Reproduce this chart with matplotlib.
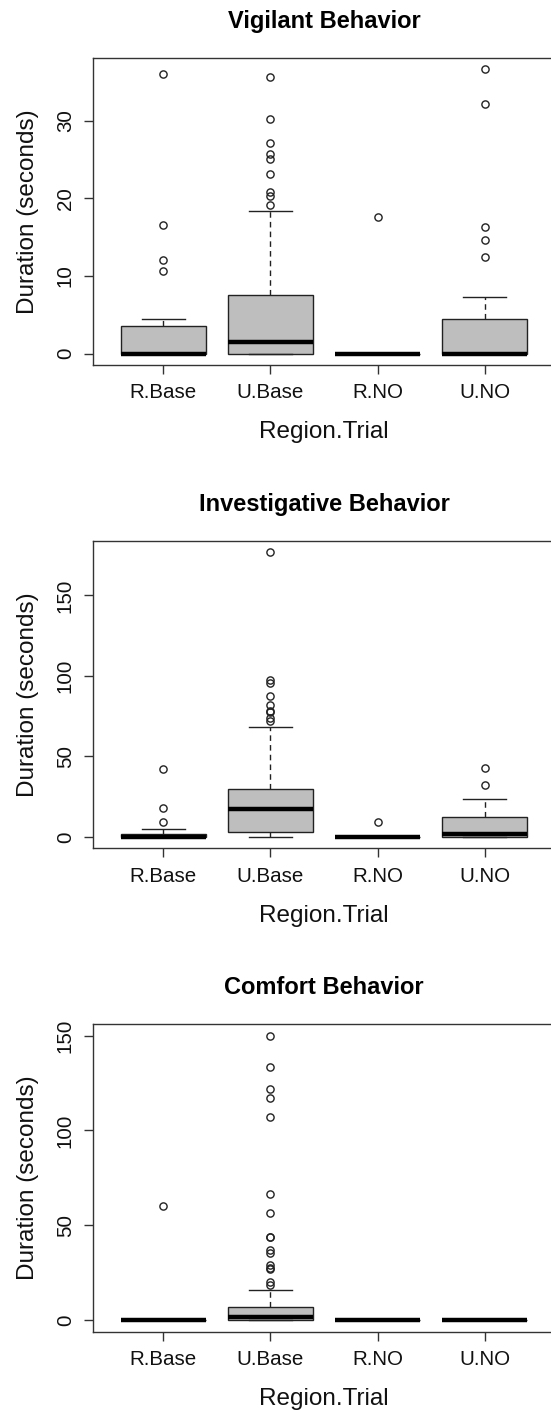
import matplotlib
matplotlib.use('Agg')
import matplotlib.pyplot as plt

plt.rcParams['font.family'] = ['Liberation Sans', 'DejaVu Sans']

groups = ['R.Base', 'U.Base', 'R.NO', 'U.NO']

# Vigilant behavior (box statistics)
vig_lo = [0, 0, 0, 0]
vig_q1 = [0, 0, 0, 0]
vig_med = [0, 1.5, 0, 0]
vig_q3 = [3.6, 7.6, 0, 4.5]
vig_hi = [4.45, 18.4, 0, 7.35]
vig_fliers = [
    [36.0, 16.6, 12.1, 10.6],
    [35.6, 30.2, 27.2, 25.7, 25.1, 23.2, 20.8, 20.3, 19.2],
    [17.6],
    [36.7, 32.2, 16.3, 14.6, 12.5],
]
vig_ticks = [0, 10, 20, 30]

# Investigative behavior
inv_lo = [0, 0, 0, 0]
inv_q1 = [0, 3.2, 0, 0]
inv_med = [0, 17.5, 0, 2.0]
inv_q3 = [2.1, 29.5, 0, 12.2]
inv_hi = [5.0, 68.4, 0, 23.4]
inv_fliers = [
    [41.9, 18.0, 9.0],
    [176.9, 97.2, 95.9, 87.4, 82.2, 78.5, 77.3, 73.8, 72.3],
    [9.1],
    [43.1, 32.2],
]
inv_ticks = [0, 50, 100, 150]

# Comfort behavior
com_lo = [0, 0, 0, 0]
com_q1 = [0, 0, 0, 0]
com_med = [0, 1.8, 0, 0]
com_q3 = [0, 6.9, 0, 0]
com_hi = [0, 16.0, 0, 0]
com_fliers = [
    [60.2],
    [150.0, 133.6, 121.7, 117.3, 106.9, 66.8, 56.5, 44.0, 43.8,
     37.2, 35.4, 28.9, 27.7, 26.9, 20.4, 18.7],
    [],
    [],
]
com_ticks = [0, 50, 100, 150]

panels = [
    ('Vigilant Behavior', vig_lo, vig_q1, vig_med, vig_q3, vig_hi, vig_fliers, vig_ticks),
    ('Investigative Behavior', inv_lo, inv_q1, inv_med, inv_q3, inv_hi, inv_fliers, inv_ticks),
    ('Comfort Behavior', com_lo, com_q1, com_med, com_q3, com_hi, com_fliers, com_ticks),
]

W, H = 551, 1410
fig = plt.figure(figsize=(W / 100, H / 100), dpi=100)

left_px, right_px = 92.7, 555.3
bottoms_px = [365.0, 848.3, 1331.7]
height_px = 307.5

for (title, lo, q1, med, q3, hi, fl, ticks), bot in zip(panels, bottoms_px):
    ax = fig.add_axes([left_px / W, 1 - bot / H, (right_px - left_px) / W, height_px / H])
    stats = []
    for i in range(len(groups)):
        stats.append(dict(whislo=lo[i], q1=q1[i], med=med[i], q3=q3[i],
                          whishi=hi[i], fliers=fl[i], label=groups[i]))
    ax.bxp(stats, positions=range(1, len(groups) + 1), widths=0.8, capwidths=0.4,
           patch_artist=True, showfliers=True,
           boxprops=dict(facecolor='#BEBEBE', edgecolor='#222222', linewidth=1.0),
           medianprops=dict(color='black', linewidth=3.2, solid_capstyle='butt'),
           whiskerprops=dict(color='#222222', linewidth=1.0, linestyle=(0, (4, 3))),
           capprops=dict(color='#222222', linewidth=1.0),
           flierprops=dict(marker='o', markerfacecolor='none', markeredgecolor='#222222',
                           markersize=5.2, markeredgewidth=1.0))
    allv = lo + hi + [v for f in fl for v in f]
    vmin, vmax = min(allv), max(allv)
    r = vmax - vmin
    ax.set_ylim(vmin - 0.04 * r, vmax + 0.04 * r)
    n = len(groups)
    ax.set_xlim(0.5 - 0.04 * n, n + 0.5 + 0.04 * n)
    ax.set_yticks(ticks)
    ax.set_yticklabels([str(t) for t in ticks], rotation=90, va='center')
    ax.set_xticks(range(1, n + 1))
    ax.set_xticklabels(groups)
    ax.tick_params(axis='both', direction='out', length=6.8, width=1.0,
                   color='#333333', labelsize=14.8, labelcolor='#111111')
    ax.tick_params(axis='x', pad=6.5)
    ax.tick_params(axis='y', pad=6)
    for s in ax.spines.values():
        s.set_color('#333333')
        s.set_linewidth(1.0)
    ax.set_title(title, fontsize=17, fontweight='bold', pad=21.5)
    ax.set_xlabel('Region.Trial', fontsize=17.5, labelpad=13.5, color='#111111')
    ax.set_ylabel('Duration (seconds)', fontsize=17.5, labelpad=12, color='#111111')

fig.savefig('out.png', dpi=100)
